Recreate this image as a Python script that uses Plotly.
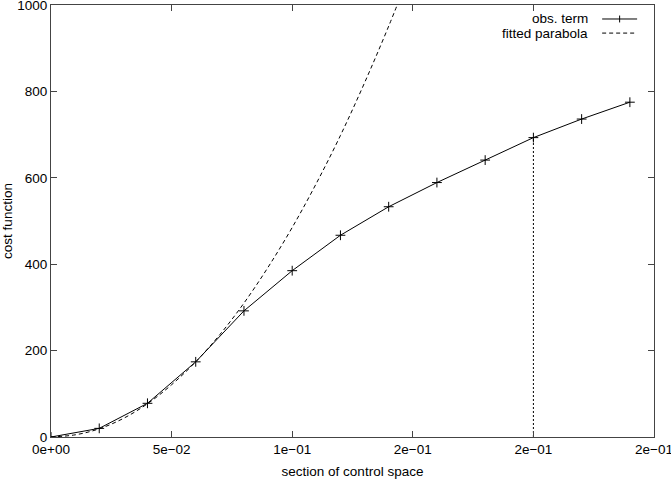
import plotly.graph_objects as go

# observed cost function along the section
section = [0.00, 0.02, 0.04, 0.06, 0.08, 0.10, 0.12, 0.14, 0.16, 0.18, 0.20, 0.22, 0.24]
cost = [0, 20, 78, 174, 292, 385, 467, 533, 589, 641, 693, 736, 775]

# fitted parabola
parab_x = [0.00, 0.01, 0.02, 0.03, 0.04, 0.05, 0.06, 0.07, 0.08, 0.09, 0.10,
           0.11, 0.12, 0.13, 0.14, 0.15]
parab_y = [0, 5, 19, 43, 77, 121, 174, 237, 310, 393, 485,
           587, 698, 820, 951, 1092]

# chosen step (dotted drop line)
step_idx = 10

x_ticks = [0.0, 0.05, 0.10, 0.15, 0.20, 0.25]
x_ticktext = ["0e+00", "5e\u221202", "1e\u221201", "2e\u221201", "2e\u221201", "2e\u221201"]
y_ticks = [0, 200, 400, 600, 800, 1000]

FONT = "Liberation Sans, Arial, Helvetica, sans-serif"
FRAME = "#444444"

fig = go.Figure()

fig.add_trace(go.Scatter(
    x=parab_x, y=parab_y, mode="lines", line_shape="spline",
    line=dict(color="black", width=1, dash="4px,3px"),
    name="fitted parabola", showlegend=False))

fig.add_trace(go.Scatter(
    x=[section[step_idx], section[step_idx]], y=[0, cost[step_idx]],
    mode="lines", line=dict(color="black", width=1, dash="2px,2px"),
    showlegend=False))

fig.add_trace(go.Scatter(
    x=section, y=cost, mode="lines+markers",
    line=dict(color="black", width=1),
    marker=dict(symbol="cross-thin", size=7, line=dict(color="black", width=1)),
    name="obs. term", showlegend=False))

axis_common = dict(
    showline=True, linecolor=FRAME, linewidth=1, mirror="ticks",
    ticks="inside", ticklen=6, tickcolor=FRAME, tickwidth=1,
    showgrid=False, zeroline=False, ticklabeloverflow="allow",
    tickfont=dict(family=FONT, size=13.5, color="black"),
)

fig.update_xaxes(
    range=[0, 0.25], tickvals=x_ticks, ticktext=x_ticktext,
    title=dict(text="section of control space", standoff=10,
               font=dict(family=FONT, size=13.5, color="black")),
    **axis_common)
fig.update_yaxes(
    range=[0, 1000], tickvals=y_ticks,
    title=dict(text="cost function", standoff=9,
               font=dict(family=FONT, size=13.5, color="black")),
    **axis_common)

# gnuplot-style key: label right-aligned, sample line to its right
key_rows = [("obs. term", 0.9676, "solid"), ("fitted parabola", 0.935, "4px,3px")]
for label, ky, dash in key_rows:
    fig.add_annotation(x=0.894, y=ky, xref="paper", yref="paper", text=label,
                       showarrow=False, xanchor="right", yanchor="middle",
                       font=dict(family=FONT, size=13.5, color="black"))
    fig.add_shape(type="line", xref="paper", yref="paper",
                  x0=0.914, x1=0.972, y0=ky, y1=ky,
                  line=dict(color="black", width=1, dash=dash))
fig.add_shape(type="line", xref="paper", yref="paper",
              x0=0.943, x1=0.943, y0=0.9676 - 0.008, y1=0.9676 + 0.008,
              line=dict(color="black", width=1))

fig.update_layout(
    width=671, height=479,
    margin=dict(l=51, r=17, t=5, b=42, autoexpand=False),
    plot_bgcolor="white", paper_bgcolor="white",
    font=dict(family=FONT, size=13.5, color="black"),
)

fig.write_html("out.html", config={"displayModeBar": False},
               post_script="document.body.style.margin='0';")
